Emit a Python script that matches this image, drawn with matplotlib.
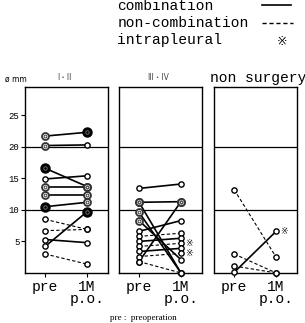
import matplotlib.pyplot as plt

# panel titles
groups = ['I・II', 'III・IV', 'non surgery']

# tumour size (mm) pre-operation and 1 month p.o., one pair per patient
pre_1 = [21.7, 20.2, 16.6, 14.9, 13.7, 12.3, 10.5, 8.5, 6.7, 5.3, 4.2, 3.0]
post_1 = [22.3, 20.3, 13.7, 15.4, 13.7, 12.3, 11.2, 6.9, 6.9, 4.8, 9.7, 1.4]
comb_1 = [1, 1, 1, 1, 1, 1, 1, 0, 0, 1, 1, 0]
prek_1 = ['d', 'd', 'f', 'o', 'd', 'd', 'f', 'o', 'o', 'o', 'o', 'o']
postk_1 = ['f', 'o', 'd', 'o', 'd', 'd', 'd', 'o', 'o', 'o', 'f', 'o']
intra_1 = [0] * 12

pre_2 = [13.4, 11.2, 11.2, 9.6, 8.3, 6.6, 5.8, 5.0, 4.2, 3.4, 2.6, 1.8, 1.8]
post_2 = [14.1, 11.3, 0.0, 0.0, 2.1, 8.3, 6.3, 5.5, 4.7, 3.9, 3.1, 11.3, 0.0]
comb_2 = [1, 1, 1, 1, 1, 1, 0, 1, 0, 1, 0, 1, 0]
prek_2 = ['o', 'd', 'd', 'd', 'd', 'o', 'o', 'o', 'o', 'o', 'o', 'o', 'o']
postk_2 = ['o', 'd', 'o', 'o', 'o', 'o', 'o', 'o', 'o', 'o', 'o', 'd', 'o']
intra_2 = [0, 0, 0, 0, 0, 0, 0, 0, 1, 0, 1, 0, 0]

pre_3 = [13.2, 3.0, 1.1, 0.1]
post_3 = [2.5, 0.0, 0.0, 6.6]
comb_3 = [0, 0, 0, 1]
prek_3 = ['o', 'o', 'o', 'o']
postk_3 = ['o', 'o', 'o', 'o']
intra_3 = [0, 0, 0, 1]

yticks = [5, 10, 15, 20, 25]
xlabels = ['pre', '1M\np.o.']

data = [(pre_1, post_1, comb_1, prek_1, postk_1, intra_1),
        (pre_2, post_2, comb_2, prek_2, postk_2, intra_2),
        (pre_3, post_3, comb_3, prek_3, postk_3, intra_3)]

mono = 'Liberation Mono'
cjk = ['DejaVu Sans', 'Noto Sans CJK JP']

fig = plt.figure(figsize=(3.05, 3.23), dpi=100)
lefts = [0.082, 0.390, 0.702]


def marker(ax, x, y, kind):
    if kind == 'f':
        ax.plot(x, y, 'o', ms=6.5, mfc='black', mec='black', clip_on=False, zorder=4)
        ax.plot(x, y, 'o', ms=2.5, mfc='none', mec='#777777', mew=0.6, clip_on=False, zorder=5)
    elif kind == 'd':
        ax.plot(x, y, 'o', ms=5, mfc='white', mec='#333333', mew=1.3, clip_on=False, zorder=4)
        ax.plot(x, y, 'o', ms=2, mfc='none', mec='#555555', mew=0.8, clip_on=False, zorder=5)
    else:
        ax.plot(x, y, 'o', ms=3.8, mfc='white', mec='black', mew=1.0, clip_on=False, zorder=4)


for i, (pre, post, comb, prek, postk, intra) in enumerate(data):
    ax = fig.add_axes([lefts[i], 0.155, 0.272, 0.576])
    ax.set_xlim(-0.48, 1.5)
    ax.set_ylim(0, 29.5)
    ax.axhline(10, color='black', lw=0.9)
    ax.axhline(20, color='black', lw=0.9)
    for j in range(len(pre)):
        ls = '-' if comb[j] else (0, (3, 2))
        ax.plot([0, 1], [pre[j], post[j]], color='black', ls=ls,
                lw=1.2 if comb[j] else 0.8, zorder=3, clip_on=False)
        marker(ax, 0, pre[j], prek[j])
        marker(ax, 1, post[j], postk[j])
        if intra[j]:
            ax.text(1.1, post[j], '※', fontsize=6.5, ha='left', va='center',
                    family=['DejaVu Sans'])
    for s in ax.spines.values():
        s.set_linewidth(1.0)
    ax.set_xticks([0, 1])
    ax.set_xticklabels(xlabels, fontsize=10.5, family=mono, linespacing=0.8)
    ax.tick_params(axis='x', length=3, width=0.8, pad=2)
    if i == 0:
        ax.set_yticks(yticks)
        ax.set_yticklabels([str(t) for t in yticks], fontsize=6.5, family=mono)
        ax.tick_params(axis='y', length=3, width=0.8, pad=1)
    else:
        ax.set_yticks([])
    if i < 2:
        ax.text(0.47, 1.025, groups[i], transform=ax.transAxes, fontsize=5.5,
                ha='center', va='bottom', color='#444444', family=cjk)
    else:
        ax.text(0.53, 1.01, groups[i], transform=ax.transAxes, fontsize=10.5,
                ha='center', va='bottom', family=mono)

fig.text(0.015, 0.742, 'ø mm', fontsize=5.5, ha='left', va='bottom')

# legend
fig.text(0.385, 0.981, 'combination', fontsize=10.5, family=mono, va='center')
fig.text(0.385, 0.928, 'non-combination', fontsize=10.5, family=mono, va='center')
fig.text(0.385, 0.876, 'intrapleural', fontsize=10.5, family=mono, va='center')
fig.add_artist(plt.Line2D([0.86, 0.955], [0.983, 0.983], color='black', lw=1.2))
fig.add_artist(plt.Line2D([0.86, 0.96], [0.930, 0.930], color='black', lw=1.0, ls=(0, (3, 2))))
fig.text(0.925, 0.872, '※', fontsize=9, ha='center', va='center', family=['DejaVu Sans'])

fig.text(0.47, 0.014, 'pre :  preoperation', fontsize=6.5, family='Liberation Serif',
         ha='center', va='center')

plt.savefig('out.png', dpi=100)
